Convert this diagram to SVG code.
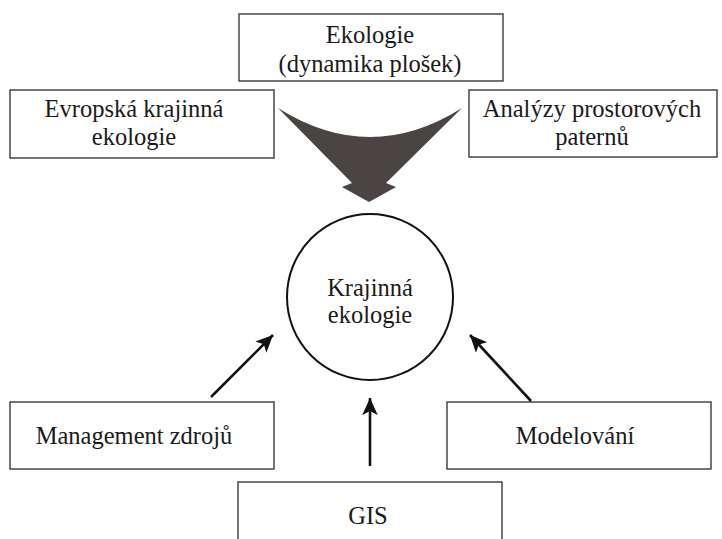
<svg xmlns="http://www.w3.org/2000/svg" width="722" height="539" viewBox="0 0 722 539">
<style>
.box{fill:#fff;stroke:#3a3a3a;stroke-width:1.4}
.t{font-family:"Liberation Serif",Tinos,"Times New Roman","DejaVu Serif",serif;font-size:24.5px;fill:#1a1a1a;text-anchor:middle}
.arr{stroke:#111;stroke-width:2.6;fill:none;marker-end:url(#ah)}
</style>
<defs>
<marker id="ah" markerWidth="8" markerHeight="7" refX="6.6" refY="3" orient="auto" markerUnits="strokeWidth">
<path d="M0,0 L6.6,3 L0,6 L1.6,3 Z" fill="#111"/>
</marker>
</defs>
<rect width="722" height="539" fill="#fff"/>
<g id="ekologie">
<rect class="box" x="239" y="14" width="264" height="67"/>
<text class="t" x="370" y="43">Ekologie</text>
<text class="t" x="370" y="72">(dynamika plošek)</text>
</g>
<g id="evropska">
<rect class="box" x="10" y="90" width="264" height="68"/>
<text class="t" x="134" y="117">Evropská krajinná</text>
<text class="t" x="134" y="145">ekologie</text>
</g>
<g id="analyzy">
<rect class="box" x="469" y="90" width="248" height="67"/>
<text class="t" x="592" y="117">Analýzy prostorových</text>
<text class="t" x="592" y="145">paternů</text>
</g>
<g id="krajinna">
<circle cx="370" cy="297" r="83" fill="#fff" stroke="#111" stroke-width="2"/>
<text class="t" x="370" y="296">Krajinná</text>
<text class="t" x="370" y="323">ekologie</text>
</g>
<g id="management">
<rect class="box" x="10" y="402" width="264" height="67"/>
<text class="t" x="134" y="444">Management zdrojů</text>
</g>
<g id="modelovani">
<rect class="box" x="447" y="402" width="264" height="67"/>
<text class="t" x="575" y="444">Modelování</text>
</g>
<g id="gis">
<rect class="box" x="238" y="482" width="264" height="70"/>
<text class="t" x="368" y="524">GIS</text>
</g>
<g id="connectors">
<path d="M278,108 Q370,166 462,108 L386,183 L396,187 L369,202 L342,187 L352,183 Z" fill="#4a4542"/>
<line class="arr" x1="211" y1="397" x2="273" y2="335"/>
<line class="arr" x1="531" y1="401" x2="470" y2="335"/>
<line class="arr" x1="370" y1="466" x2="370" y2="398"/>
</g>
</svg>
